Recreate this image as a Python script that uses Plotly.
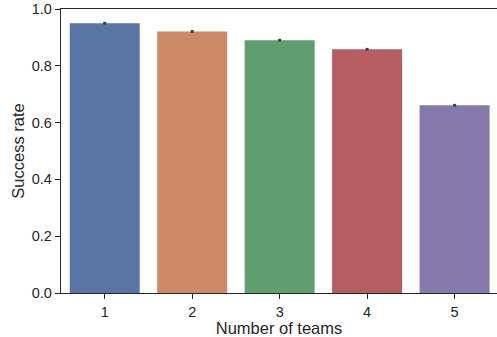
import plotly.graph_objects as go

categories = ["1", "2", "3", "4", "5"]
success_rate = [0.950, 0.921, 0.890, 0.858, 0.661]
error = [0.005, 0.005, 0.005, 0.005, 0.005]
colors = ["#5975a4", "#cc8963", "#5f9e6e", "#b55d60", "#857aab"]
y_ticks = [0.0, 0.2, 0.4, 0.6, 0.8, 1.0]
y_tick_labels = ["0.0", "0.2", "0.4", "0.6", "0.8", "1.0"]

fig = go.Figure()
fig.add_trace(go.Bar(
    x=list(range(len(categories))),
    y=success_rate,
    width=0.8,
    marker=dict(color=colors, line=dict(width=0)),
    error_y=dict(type="data", array=error, visible=True, color="#3f3f3f", thickness=3, width=0),
))

FAM = "Liberation Sans, Arial, sans-serif"
tick_font = dict(family=FAM, size=14.5, color="#262626")
title_font = dict(family=FAM, size=16.5, color="#262626")
fig.update_layout(
    width=497, height=337,
    margin=dict(l=61, r=0, t=9, b=44, autoexpand=False),
    plot_bgcolor="white", paper_bgcolor="white",
    showlegend=False,
    font=tick_font,
    bargap=0.2,
)
fig.update_xaxes(
    range=[-0.5, 4.485], automargin=False,
    tickmode="array", tickvals=list(range(len(categories))), ticktext=categories,
    showline=True, linecolor="#262626", linewidth=1.3, mirror=True,
    ticks="outside", ticklen=5, tickwidth=1.3, tickcolor="#262626",
    showgrid=False, zeroline=False,
    title=dict(text="Number of teams", font=title_font, standoff=2),
    tickfont=tick_font,
)
fig.update_yaxes(
    range=[0, 1.0], automargin=False,
    tickmode="array", tickvals=y_ticks, ticktext=y_tick_labels,
    showline=True, linecolor="#262626", linewidth=1.3,
    ticks="outside", ticklen=5, tickwidth=1.3, tickcolor="#262626",
    showgrid=False, zeroline=False,
    title=dict(text="Success rate", font=title_font, standoff=3),
    tickfont=tick_font,
)
fig.write_html(
    "out.html",
    config={"displayModeBar": False},
    post_script="document.body.style.margin='0';document.body.style.padding='0';",
)
